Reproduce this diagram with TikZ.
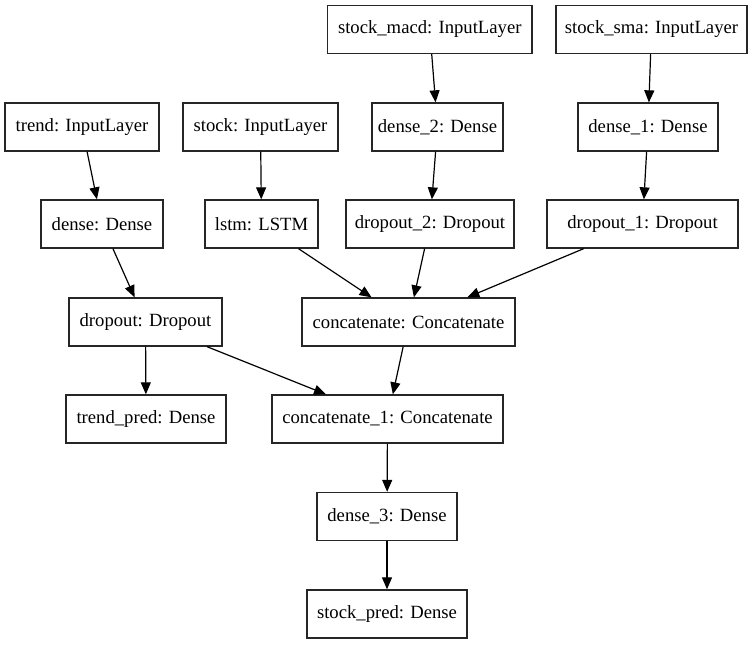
\documentclass[tikz,border=0pt]{standalone}
\usepackage{fontspec}
\setmainfont{Liberation Serif}
\usetikzlibrary{arrows.meta}
\begin{document}
\begin{tikzpicture}[x=0.75pt,y=-0.75pt,
  layer/.style={draw=black!85, line width=1pt, inner sep=0pt, minimum height=36pt,
    font=\fontsize{14pt}{16pt}\selectfont},
  arr/.style={draw=black, line width=0.9pt, -{Triangle[length=9pt,width=7.5pt]}}]
\useasboundingbox (0,0) rectangle (755,644);
\fill[white] (0,0) rectangle (755,644);
\node[layer, minimum width=0.75*204.5pt] (macd) at (429.75,29.5) {stock\_macd: InputLayer};
\node[layer, minimum width=0.75*191pt] (sma) at (651.5,29.5) {stock\_sma: InputLayer};
\node[layer, minimum width=0.75*154pt] (trend) at (82,127) {trend: InputLayer};
\node[layer, minimum width=0.75*155pt] (stock) at (260.5,127) {stock: InputLayer};
\node[layer, minimum width=0.75*131pt] (dense2) at (437.5,127) {dense\_2: Dense};
\node[layer, minimum width=0.75*140pt] (dense1) at (648,127) {dense\_1: Dense};
\node[layer, minimum width=0.75*122pt] (dense) at (102,224) {dense: Dense};
\node[layer, minimum width=0.75*113pt] (lstm) at (261.5,224) {lstm: LSTM};
\node[layer, minimum width=0.75*168pt] (drop2) at (430,224) {dropout\_2: Dropout};
\node[layer, minimum width=0.75*191pt] (drop1) at (642.5,224) {dropout\_1: Dropout};
\node[layer, minimum width=0.75*153pt] (drop) at (145.5,322) {dropout: Dropout};
\node[layer, minimum width=0.75*213pt] (concat) at (408.5,322) {concatenate: Concatenate};
\node[layer, minimum width=0.75*160pt] (tpred) at (146,419) {trend\_pred: Dense};
\node[layer, minimum width=0.75*231pt] (concat1) at (387.5,419) {concatenate\_1: Concatenate};
\node[layer, minimum width=0.75*140pt] (dense3) at (387,516.5) {dense\_3: Dense};
\node[layer, minimum width=0.75*160pt] (spred) at (387,614) {stock\_pred: Dense};
\draw[arr] (macd) -- (dense2);
\draw[arr] (sma) -- (dense1);
\draw[arr] (trend) -- (dense);
\draw[arr] (stock) -- (lstm);
\draw[arr] (dense2) -- (drop2);
\draw[arr] (dense1) -- (drop1);
\draw[arr] (dense) -- (drop);
\draw[arr] (lstm) -- (concat);
\draw[arr] (drop2) -- (concat);
\draw[arr] (drop1) -- (concat);
\draw[arr] (drop) -- (tpred);
\draw[arr] (drop) -- (concat1);
\draw[arr] (concat) -- (concat1);
\draw[arr] (concat1) -- (dense3);
\draw[arr] (dense3) -- (spred);
\end{tikzpicture}
\end{document}
